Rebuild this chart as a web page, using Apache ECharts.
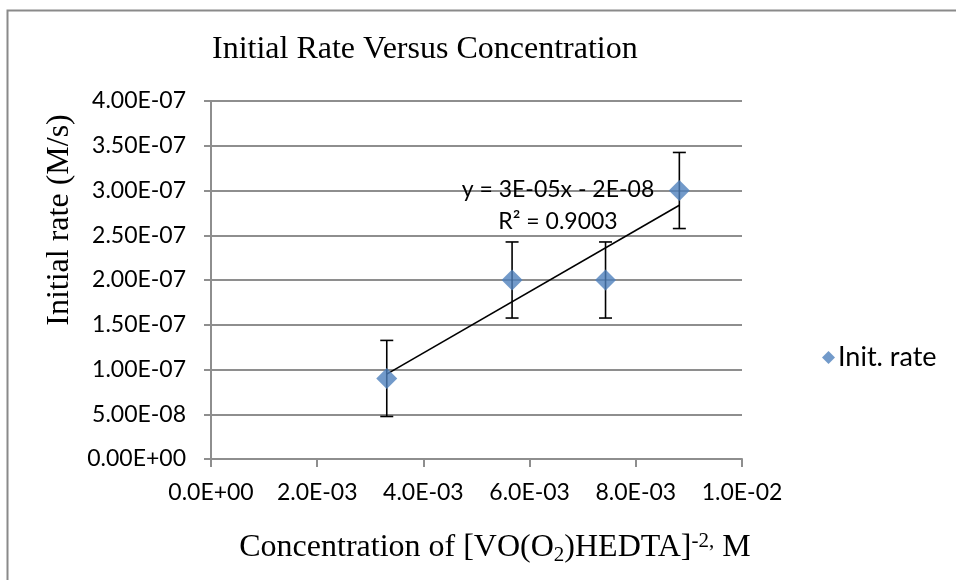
<!DOCTYPE html>
<html>
<head>
<meta charset="utf-8">
<script src="https://cdn.jsdelivr.net/npm/echarts@6/dist/echarts.min.js"></script>
<style>
html,body{margin:0;padding:0;background:#fff;}
#chart{width:956px;height:580px;}
</style>
</head>
<body>
<div id="chart"></div>
<script>
// ---- data ----
const concentration = [0.00331, 0.00567, 0.00743, 0.00882];   // x, M
const initRate      = [0.9e-7, 2.0e-7, 2.0e-7, 3.0e-7];       // y, M/s
const rateError     = [4.25e-8, 4.25e-8, 4.25e-8, 4.25e-8];   // +/- error
const seriesName = 'Init. rate';
const titleText = 'Initial Rate Versus Concentration';
const yAxisTitle = 'Initial rate (M/s)';
const trendEquation = 'y = 3E-05x - 2E-08';
const trendR2 = 'R² = 0.9003';
const xMin = 0, xMax = 0.01, xStep = 0.002;
const yMin = 0, yMax = 4e-7, yStep = 5e-8;

// ---- helpers ----
function excelExp(v, d) {
  const s = v.toExponential(d);
  const parts = s.split('e');
  const n = parseInt(parts[1], 10);
  return parts[0] + 'E' + (n < 0 ? '-' : '+') + String(Math.abs(n)).padStart(2, '0');
}
// least squares trendline computed from the data
const n = concentration.length;
const mx = concentration.reduce((a, b) => a + b, 0) / n;
const my = initRate.reduce((a, b) => a + b, 0) / n;
let sxy = 0, sxx = 0;
for (let i = 0; i < n; i++) { sxy += (concentration[i] - mx) * (initRate[i] - my); sxx += (concentration[i] - mx) ** 2; }
const slope = sxy / sxx, intercept = my - slope * mx;
const xLo = Math.min(...concentration), xHi = Math.max(...concentration);
const trendData = [[xLo, intercept + slope * xLo], [xHi, intercept + slope * xHi]];
const errData = concentration.map((x, i) => [x, initRate[i] - rateError[i], initRate[i] + rateError[i]]);
const pointData = concentration.map((x, i) => [x, initRate[i]]);

const sansFont = 'Lato';
const serifFont = "'Liberation Serif', 'Times New Roman', serif";
const gridColor = '#8e8e8e';

const chart = echarts.init(document.getElementById('chart'), null, {renderer: 'canvas'});
chart.setOption({
  backgroundColor: '#fff',
  animation: false,
  title: {
    text: titleText, left: 212, top: 34, padding: 0,
    textStyle: {fontFamily: serifFont, fontSize: 32, fontWeight: 'normal', color: '#000'}
  },
  legend: {
    data: [seriesName], left: 822, top: 344, padding: 0,
    icon: 'diamond', itemWidth: 13, itemHeight: 13, itemGap: 5,
    textStyle: {fontFamily: sansFont, fontSize: 27, color: '#000', padding: [0, 0, 0, -2]}
  },
  grid: {left: 211, right: 214, top: 101, bottom: 121, containLabel: false},
  xAxis: {
    type: 'value', min: xMin, max: xMax, interval: xStep,
    axisLine: {show: true, onZero: false, lineStyle: {color: gridColor, width: 2}},
    axisTick: {show: true, inside: false, length: 8, lineStyle: {color: gridColor, width: 2}},
    splitLine: {show: false},
    axisLabel: {margin: 22, fontFamily: sansFont, fontSize: 23, color: '#000', formatter: v => excelExp(v, 1)}
  },
  yAxis: {
    type: 'value', min: yMin, max: yMax, interval: yStep,
    axisLine: {show: true, lineStyle: {color: gridColor, width: 2}},
    axisTick: {show: true, inside: false, length: 7, lineStyle: {color: gridColor, width: 2}},
    splitLine: {show: true, lineStyle: {color: gridColor, width: 2}},
    axisLabel: {margin: 25, fontFamily: sansFont, fontSize: 23, color: '#000', formatter: v => excelExp(v, 2)}
  },
  graphic: [
    {type: 'rect', shape: {x: 7.5, y: 10.5, width: 1200, height: 1200}, style: {fill: 'none', stroke: '#8a8a8a', lineWidth: 2}, silent: true},
    {type: 'text', x: 60, y: 220, rotation: Math.PI / 2,
     style: {text: yAxisTitle, fontFamily: serifFont, fontSize: 32, fill: '#000', align: 'center', verticalAlign: 'middle'}},
    {type: 'text', x: 495, y: 548,
     style: {
       text: 'Concentration of [VO(O{sub|2})HEDTA]{sup|-2,} M',
       fontFamily: serifFont, fontSize: 32, fill: '#000', align: 'center', verticalAlign: 'middle',
       rich: {
         sub: {fontFamily: serifFont, fontSize: 21, fill: '#000', padding: [14, 0, 0, 0]},
         sup: {fontFamily: serifFont, fontSize: 21, fill: '#000', padding: [0, 0, 14, 0]}
       }
     }},
    {type: 'text', x: 558, y: 190, z: 10,
     style: {text: trendEquation, fontFamily: sansFont, fontSize: 23, fill: '#000', align: 'center', verticalAlign: 'middle'}},
    {type: 'text', x: 558, y: 222, z: 10,
     style: {text: trendR2, fontFamily: sansFont, fontSize: 23, fill: '#000', align: 'center', verticalAlign: 'middle'}}
  ],
  series: [
    {
      name: 'errorbars', type: 'custom', z: 2, silent: true,
      data: errData,
      renderItem: function (params, api) {
        const x = api.value(0);
        const top = api.coord([x, api.value(2)]);
        const bot = api.coord([x, api.value(1)]);
        const hw = 6.5;
        const st = {stroke: '#000', lineWidth: 1.6};
        return {type: 'group', children: [
          {type: 'line', shape: {x1: top[0], y1: top[1], x2: bot[0], y2: bot[1]}, style: st},
          {type: 'line', shape: {x1: top[0] - hw, y1: top[1], x2: top[0] + hw, y2: top[1]}, style: st},
          {type: 'line', shape: {x1: bot[0] - hw, y1: bot[1], x2: bot[0] + hw, y2: bot[1]}, style: st}
        ]};
      }
    },
    {
      name: 'trend', type: 'line', z: 3, silent: true, showSymbol: false, symbol: 'none',
      data: trendData, lineStyle: {color: '#000', width: 1.6}
    },
    {
      name: seriesName, type: 'scatter', z: 4,
      symbol: 'diamond', symbolSize: 21,
      itemStyle: {color: '#4f81bd'},
      data: pointData
    }
  ]
});
</script>
</body>
</html>
